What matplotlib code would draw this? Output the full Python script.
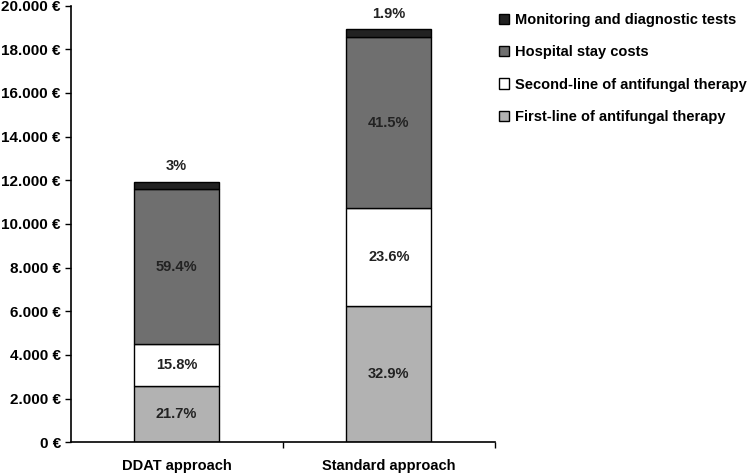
import numpy as np
import matplotlib
matplotlib.use("Agg")
import matplotlib.pyplot as plt
from matplotlib.ticker import FuncFormatter

# data (euro per patient)
approaches = ["DDAT approach", "Standard approach"]
first_line = [2590, 6250]
second_line = [1890, 4460]
hospital_stay = [7100, 7860]
monitoring = [360, 360]

first_pct = ["21.7%", "32.9%"]
second_pct = ["15.8%", "23.6%"]
hospital_pct = ["59.4%", "41.5%"]
monitoring_pct = ["3%", "1.9%"]

series = [
    ("First-line of antifungal therapy", first_line, first_pct, "#b2b2b2"),
    ("Second-line of antifungal therapy", second_line, second_pct, "#ffffff"),
    ("Hospital stay costs", hospital_stay, hospital_pct, "#6f6f6f"),
    ("Monitoring and diagnostic tests", monitoring, monitoring_pct, "#222222"),
]

plt.rcParams['font.family'] = ['Liberation Sans', 'DejaVu Sans']
plt.rcParams['font.weight'] = 'bold'

fig = plt.figure(figsize=(7.5, 4.74), dpi=100)
ax = fig.add_axes([0.094, 0.067, 0.566, 0.921])

x = np.arange(len(approaches))
bottom = np.zeros(len(approaches))
handles = []
for name, vals, pcts, col in series:
    vals = np.array(vals, dtype=float)
    b = ax.bar(x, vals, width=0.4, bottom=bottom, color=col,
               edgecolor="black", linewidth=1.0, label=name)
    handles.append(b)
    for i in range(len(x)):
        if name.startswith("Monitoring"):
            ax.annotate(pcts[i], (x[i], bottom[i] + vals[i]), xytext=(0, 6),
                        textcoords="offset points", ha="center", va="bottom",
                        fontsize=10.5, fontweight="bold", color="#222222")
        else:
            ax.text(x[i], bottom[i] + vals[i] / 2, pcts[i], ha="center",
                    va="center", fontsize=10.5, fontweight="bold", color="#222222")
    bottom += vals

ax.set_ylim(0, 20000)
ax.set_xlim(-0.5, 1.5)
ax.set_yticks(np.arange(0, 20001, 2000))
ax.yaxis.set_major_formatter(FuncFormatter(
    lambda v, p: "{:,.0f} €".format(v).replace(",", ".")))
ax.tick_params(axis="y", direction="out", length=4, width=1, labelsize=11, pad=3)

ax.set_xticks(x)
ax.set_xticklabels(approaches, fontsize=10.5, fontweight="bold")
ax.set_xticks([0.5, 1.5], minor=True)
ax.tick_params(axis="x", which="major", length=0, pad=12)
ax.tick_params(axis="x", which="minor", direction="out", length=4, width=1)

for s in ["top", "right"]:
    ax.spines[s].set_visible(False)
for s in ["left", "bottom"]:
    ax.spines[s].set_linewidth(1.2)

leg = fig.legend(handles=handles[::-1], loc="upper left",
                 bbox_to_anchor=(0.648, 1.0), frameon=False,
                 fontsize=10.5, handlelength=0.7, handleheight=0.7,
                 handletextpad=0.4, labelspacing=1.25)

fig.savefig("out.png", dpi=100)
